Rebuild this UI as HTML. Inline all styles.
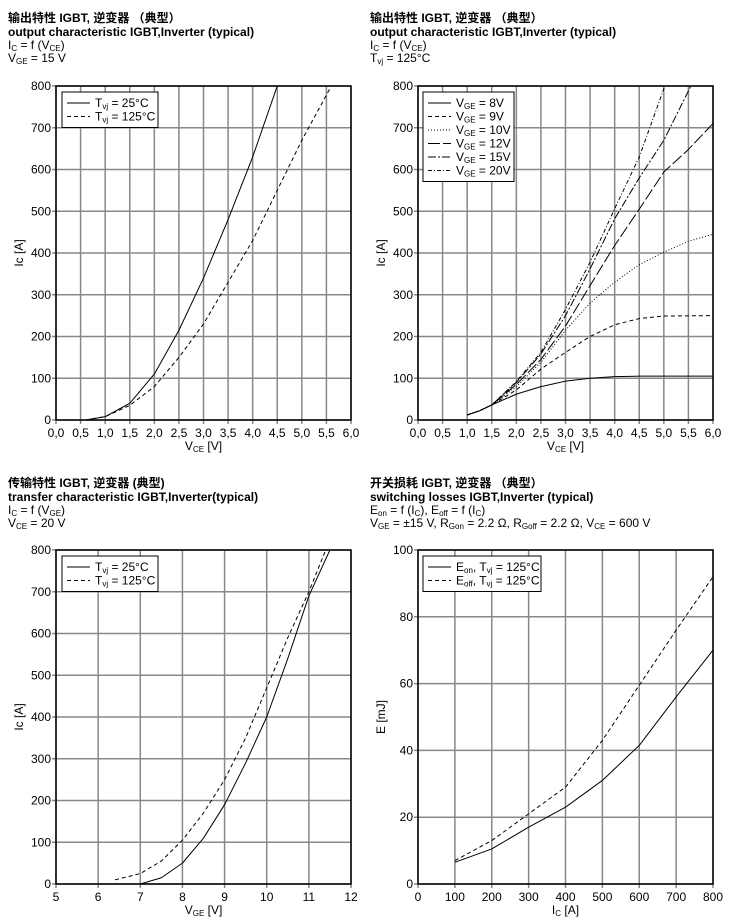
<!DOCTYPE html><html><head><meta charset="utf-8"><style>
body{margin:0;background:#fff}
svg{display:block;font-family:"Liberation Sans","Noto Sans CJK SC",sans-serif}
</style></head><body>
<svg id="s" width="740" height="922" xmlns="http://www.w3.org/2000/svg"></svg>
<script>
const S=document.getElementById('s');let h='';
function T(x,y,t,o){o=o||{};h+=`<text x="${x}" y="${y}" font-size="${o.fs||12}" ${o.b?'font-weight="bold"':''} text-anchor="${o.a||'start'}" ${o.tr?`transform="${o.tr}"`:''}>${t}</text>`;}
function chart(c){
 const {x0,y0,x1,y1,xmin,xmax,xs,ymin,ymax,ys}=c;
 const X=v=>x0+(v-xmin)/(xmax-xmin)*(x1-x0), Y=v=>y1-(v-ymin)/(ymax-ymin)*(y1-y0);
 for(let v=xmin;v<=xmax+1e-9;v+=xs){const px=X(v);h+=`<line x1="${px}" y1="${y0}" x2="${px}" y2="${y1+4}" stroke="#888" stroke-width="1.5"/>`;T(px,y1+17,c.xf(v),{a:'middle'});}
 for(let v=ymin;v<=ymax+1e-9;v+=ys){const py=Y(v);h+=`<line x1="${x0-4}" y1="${py}" x2="${x1}" y2="${py}" stroke="#888" stroke-width="1.5"/>`;T(x0-5,py+4,v,{a:'end'});}
 h+=`<rect x="${x0}" y="${y0}" width="${x1-x0}" height="${y1-y0}" fill="none" stroke="#000" stroke-width="1.5"/>`;
 h+=`<svg x="${x0}" y="${y0}" width="${x1-x0}" height="${y1-y0}" overflow="hidden"><g transform="translate(${-x0},${-y0})">`;
 c.series.forEach(s=>{h+=`<polyline fill="none" stroke="#000" stroke-width="1" ${s.d?`stroke-dasharray="${s.d}"`:''} stroke-linejoin="round" points="${s.p.map(q=>X(q[0])+','+Y(q[1])).join(' ')}"/>`;});
 h+='</g></svg>';
 const L=c.leg;h+=`<rect x="${L.x}" y="${L.y}" width="${L.w}" height="${14+13.5*(c.series.length-1)+8}" fill="#fff" stroke="#000" stroke-width="1"/>`;
 c.series.forEach((s,i)=>{const yy=L.y+11+i*13.5;h+=`<line x1="${L.x+5}" y1="${yy}" x2="${L.x+28}" y2="${yy}" stroke="#000" ${s.d?`stroke-dasharray="${s.d}"`:''}/>`;h+=`<text x="${L.x+33}" y="${yy+4}" font-size="12">${s.l}</text>`;});
 T((x0+x1)/2,y1+30,c.xl,{a:'middle'});
 h+=`<text x="0" y="0" font-size="12" text-anchor="middle" transform="translate(${x0-33},${(y0+y1)/2}) rotate(-90)">${c.yl}</text>`;
}
const sub=t=>`<tspan font-size="8" dy="2">${t}</tspan><tspan dy="-2">&#8203;</tspan>`;
const f1=v=>v.toFixed(1).replace('.',',');
const tvj=t=>`T${sub('vj')} = ${t}°C`;
T(8,22,'输出特性 IGBT, 逆变器 （典型）',{b:1});T(8,36,'output characteristic IGBT,Inverter (typical)',{b:1});
T(8,49,`I${sub('C')} = f (V${sub('CE')})`);T(8,62,`V${sub('GE')} = 15 V`);
T(370,22,'输出特性 IGBT, 逆变器 （典型）',{b:1});T(370,36,'output characteristic IGBT,Inverter (typical)',{b:1});
T(370,49,`I${sub('C')} = f (V${sub('CE')})`);T(370,62,`T${sub('vj')} = 125°C`);
T(8,487,'传输特性 IGBT, 逆变器 (典型)',{b:1});T(8,501,'transfer characteristic  IGBT,Inverter(typical)',{b:1});
T(8,514,`I${sub('C')} = f (V${sub('GE')})`);T(8,527,`V${sub('CE')} = 20 V`);
T(370,487,'开关损耗 IGBT, 逆变器 （典型）',{b:1});T(370,501,'switching losses  IGBT,Inverter (typical)',{b:1});
T(370,514,`E${sub('on')} = f (I${sub('C')}), E${sub('off')} = f (I${sub('C')})`);
T(370,527,`V${sub('GE')} = ±15 V, R${sub('Gon')} = 2.2 Ω, R${sub('Goff')} = 2.2 Ω, V${sub('CE')} = 600 V`);
chart({x0:56,y0:86,x1:351,y1:420,xmin:0,xmax:6,xs:0.5,ymin:0,ymax:800,ys:100,xf:f1,xl:`V${sub('CE')} [V]`,yl:`Ic [A]`,leg:{x:62,y:92,w:96},
series:[{l:tvj(25),p:[[0.6,0],[1,8],[1.5,40],[2,110],[2.5,215],[3,340],[3.5,480],[4,630],[4.5,800]]},
{l:tvj(125),d:'4,3',p:[[0.6,0],[1,8],[1.5,35],[2,80],[2.5,150],[3,230],[3.5,330],[4,430],[4.5,550],[5,670],[5.6,800]]}]});
const b=[[1,12],[1.25,22],[1.5,36]];
chart({x0:418,y0:86,x1:713,y1:420,xmin:0,xmax:6,xs:0.5,ymin:0,ymax:800,ys:100,xf:f1,xl:`V${sub('CE')} [V]`,yl:`Ic [A]`,leg:{x:423,y:92,w:91},
series:[{l:`V${sub('GE')} = 8V`,p:b.concat([[2,62],[2.5,80],[3,93],[3.5,100],[4,104],[4.5,105],[6,105]])},
{l:`V${sub('GE')} = 9V`,d:'4,3',p:b.concat([[2,72],[2.5,122],[3,162],[3.5,200],[4,228],[4.5,243],[5,249],[6,250]])},
{l:`V${sub('GE')} = 10V`,d:'1,2',p:b.concat([[2,80],[2.5,138],[3,215],[3.5,280],[4,330],[4.5,372],[5,402],[5.5,428],[6,445]])},
{l:`V${sub('GE')} = 12V`,d:'12,3',p:b.concat([[2,85],[2.5,145],[3,225],[3.5,322],[4,418],[4.5,505],[5,594],[5.5,648],[6,710]])},
{l:`V${sub('GE')} = 15V`,d:'8,2,2,2',p:b.concat([[2,90],[2.5,158],[3,250],[3.5,362],[4,482],[4.5,580],[5,670],[5.55,800]])},
{l:`V${sub('GE')} = 20V`,d:'4,2,1,2',p:b.concat([[2,92],[2.5,162],[3,265],[3.5,378],[4,506],[4.5,630],[5.02,800]])}]});
chart({x0:56,y0:550,x1:351,y1:884,xmin:5,xmax:12,xs:1,ymin:0,ymax:800,ys:100,xf:v=>v,xl:`V${sub('GE')} [V]`,yl:`Ic [A]`,leg:{x:62,y:556,w:96},
series:[{l:tvj(25),p:[[7,0],[7.5,15],[8,50],[8.5,110],[9,190],[9.5,290],[10,400],[10.5,540],[11,690],[11.5,800]]},
{l:tvj(125),d:'4,3',p:[[6.4,10],[7,25],[7.5,55],[8,105],[8.5,170],[9,250],[9.5,350],[10,470],[10.5,590],[11,700],[11.4,800]]}]});
chart({x0:418,y0:550,x1:713,y1:884,xmin:0,xmax:800,xs:100,ymin:0,ymax:100,ys:20,xf:v=>v,xl:`I${sub('C')} [A]`,yl:`E [mJ]`,leg:{x:423,y:556,w:118},
series:[{l:`E${sub('on')}, T${sub('vj')} = 125°C`,p:[[100,6.5],[200,10.5],[300,17],[400,23],[500,31],[600,41.5],[700,56],[800,70]]},
{l:`E${sub('off')}, T${sub('vj')} = 125°C`,d:'4,3',p:[[100,7],[200,13],[300,21],[400,29],[500,43],[600,59.5],[700,76],[800,92]]}]});
S.innerHTML=h;
</script></body></html>
